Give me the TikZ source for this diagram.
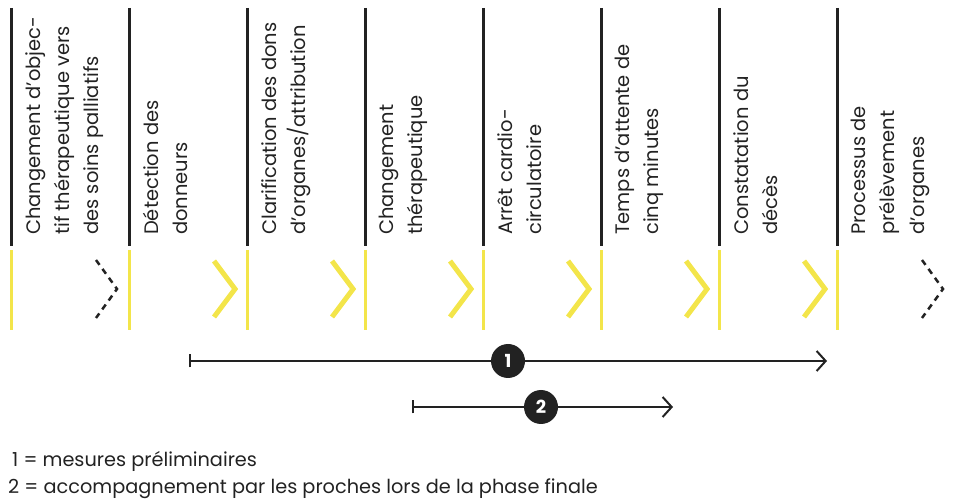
\documentclass[tikz,border=0pt]{standalone}
\usepackage{fontspec}
\setmainfont{Poppins}
\usetikzlibrary{arrows.meta}
\definecolor{ink}{HTML}{222222}
\definecolor{yel}{HTML}{F3E54A}
\tikzset{
  darkline/.style={draw=ink, line width=3pt},
  yelline/.style={draw=yel, line width=3pt},
  chev/.style={draw=yel, line width=5pt},
  dchev/.style={draw=ink, line width=2.5pt, dash pattern=on 6pt off 5pt},
  lbl/.style={rotate=90, anchor=north west, inner sep=0pt, align=left, text=ink,
    font=\fontsize{19.5}{29.2}\selectfont},
  span/.style={draw=ink, line width=2pt, {Bar[width=13pt]}-{Straight Barb[length=9pt,width=20pt]}},
  num/.style={circle, fill=ink, minimum size=34pt, inner sep=0pt, text=white,
    font=\fontsize{18}{18}\selectfont\bfseries},
  legend/.style={anchor=base west, inner sep=0pt, text=ink, font=\fontsize{19.3}{19.3}\selectfont}
}
\begin{document}
\begin{tikzpicture}[x=1pt,y=1pt]
\useasboundingbox (0,0) rectangle (954,501);
% vertical lines
\foreach \i in {0,...,7}{
  \pgfmathsetmacro{\L}{11+118*\i}
  \coordinate (d\i a) at (\L,493);
  \coordinate (d\i b) at (\L,255);
  \coordinate (y\i a) at (\L,251);
  \coordinate (y\i b) at (\L,171);
  \draw[darkline] (d\i a) -- (d\i b);
  \draw[yelline] (y\i a) -- (y\i b);
}
% chevrons
\foreach \i in {1,...,6}{
  \pgfmathsetmacro{\L}{11+118*\i}
  \coordinate (c\i t) at (\L+85,240);
  \coordinate (c\i m) at (\L+106,212);
  \coordinate (c\i b) at (\L+85,184);
  \draw[chev] (c\i t) -- (c\i m) -- (c\i b);
}
\coordinate (c0t) at (96,241);
\coordinate (c0m) at (117,212);
\coordinate (c0b) at (96,183);
\draw[dchev] (c0t) -- (c0m) -- (c0b);
\coordinate (c7t) at (922,241);
\coordinate (c7m) at (943,212);
\coordinate (c7b) at (922,183);
\draw[dchev] (c7t) -- (c7m) -- (c7b);
% labels
\node[lbl] (t0) at (25,266) {Changement d’objec-\\tif thérapeutique vers\\des soins palliatifs};
\node[lbl] (t1) at (143,266) {Détection des\\donneurs};
\node[lbl] (t2) at (261,266) {Clarification des dons\\d’organes/attribution};
\node[lbl] (t3) at (379,266) {Changement\\thérapeutique};
\node[lbl] (t4) at (497,266) {Arrêt cardio-\\circulatoire};
\node[lbl] (t5) at (615,266) {Temps d’attente de\\cinq minutes};
\node[lbl] (t6) at (733,266) {Constatation du\\décès};
\node[lbl] (t7) at (851,266) {Processus de\\prélèvement\\d’organes};
% spans
\coordinate (s1a) at (189,140);
\coordinate (s1b) at (827,140);
\coordinate (s2a) at (412,94);
\coordinate (s2b) at (673,94);
\draw[span] (s1a) -- (s1b);
\draw[span] (s2a) -- (s2b);
\node[num] (n1) at (508,140) {1};
\node[num] (n2) at (541,94) {2};
% legend
\node[legend] (l1) at (12,34) {1 = mesures préliminaires};
\node[legend] (l2) at (8,7) {2 = accompagnement par les proches lors de la phase finale};
\end{tikzpicture}
\end{document}
